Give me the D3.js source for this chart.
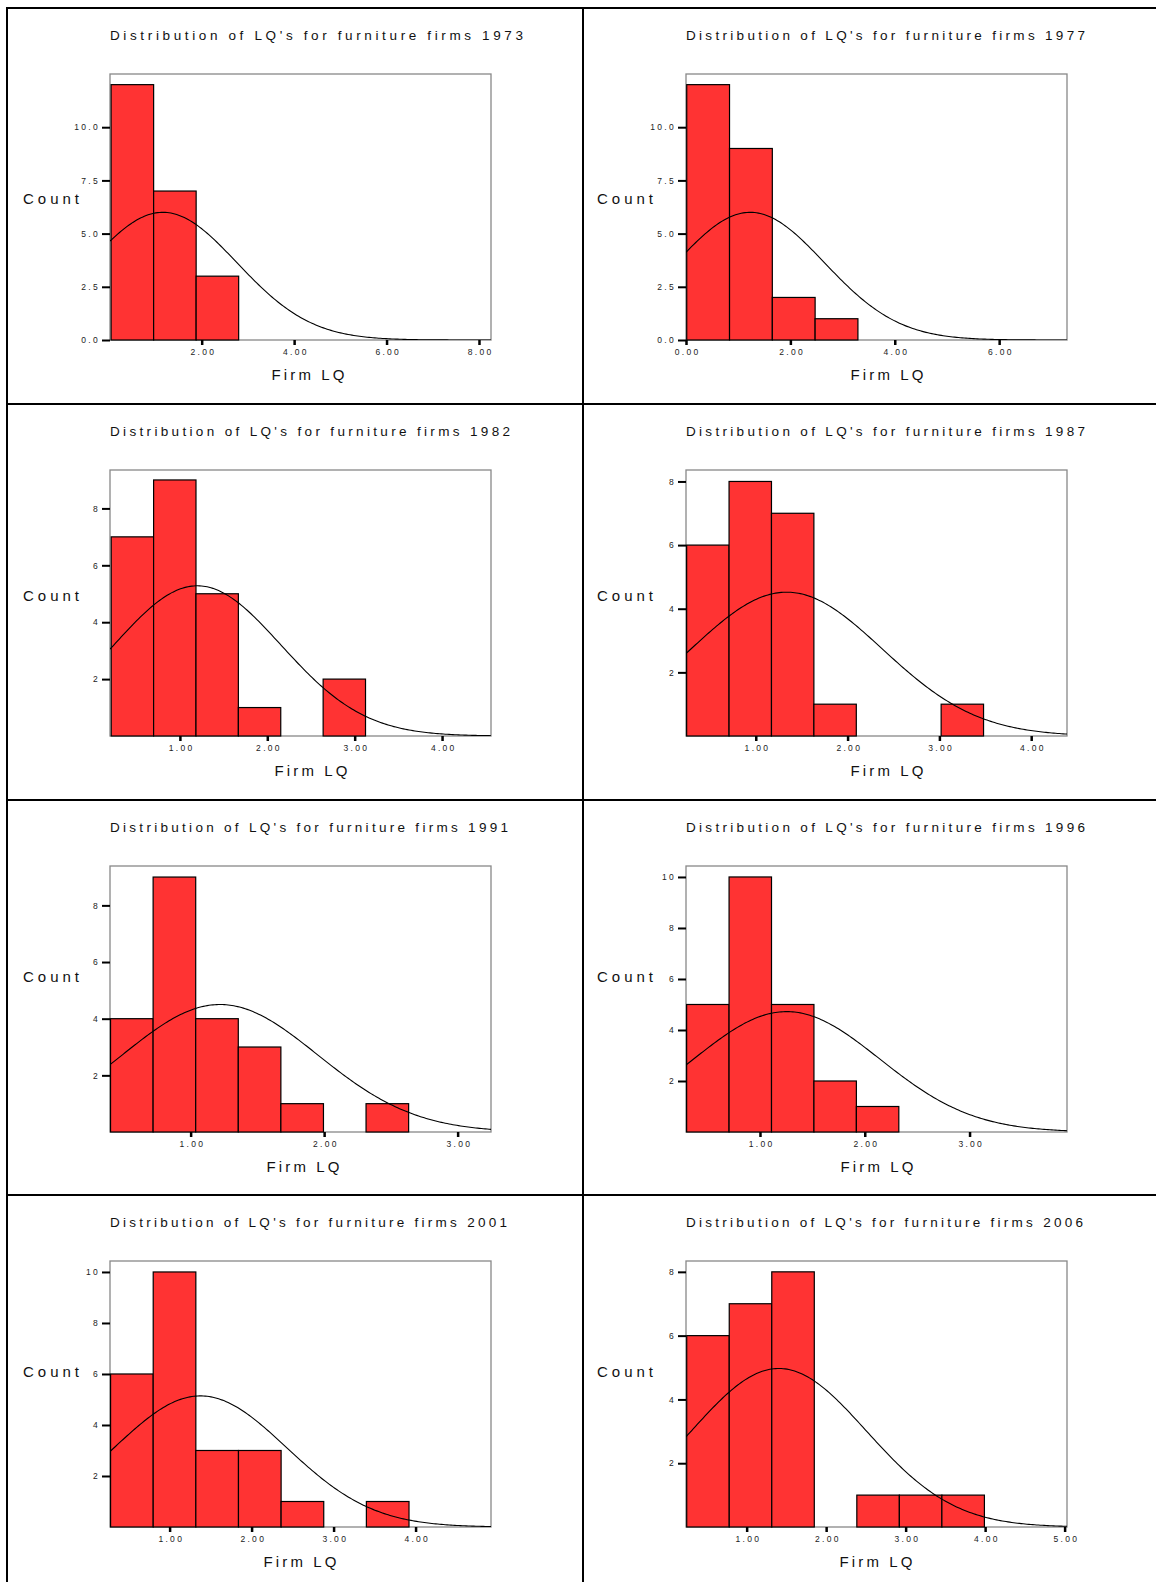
<!DOCTYPE html>
<html>
<head>
<meta charset="utf-8">
<script src="https://cdn.jsdelivr.net/npm/d3@7"></script>
<style>
  body { margin: 0; background: #fff; }
  text { font-family: "Liberation Sans", Arial, sans-serif; }
</style>
</head>
<body>
<svg id="chart"></svg>
<script>
// data
const years = [1973, 1977, 1982, 1987, 1991, 1996, 2001, 2006];
const xDomains = [[0.016, 8.26], [0, 7.30], [0.20, 4.56], [0.24, 4.39], [0.396, 3.25], [0.294, 3.93], [0.273, 4.92], [0.237, 5.03]];
const yMax = [12.5, 12.5, 9.35, 8.36, 9.39, 10.43, 10.43, 8.34];
const binStart = [0.04, 0.014, 0.214, 0.247, 0.40, 0.30, 0.28, 0.246];
const binWidth = [0.92, 0.82, 0.485, 0.462, 0.319, 0.405, 0.52, 0.535];
const counts = [
    [12, 7, 3],
    [12, 9, 2, 1],
    [7, 9, 5, 1, 0, 2],
    [6, 8, 7, 1, 0, 0, 1],
    [4, 9, 4, 3, 1, 0, 1],
    [5, 10, 5, 2, 1],
    [6, 10, 3, 3, 1, 0, 1],
    [6, 7, 8, 0, 1, 1, 1]
];
// fitted normal curve: mean, sd, peak height
const curveMean = [1.16, 1.23, 1.20, 1.336, 1.22, 1.255, 1.376, 1.405];
const curveSd = [1.6, 1.42, 0.955, 1.04, 0.73, 0.888, 1.05, 1.1];
const curvePeak = [6.0, 6.0, 5.28, 4.52, 4.5, 4.72, 5.14, 4.97];
const yTicks = [[0, 2.5, 5, 7.5, 10], [0, 2.5, 5, 7.5, 10], [2, 4, 6, 8], [2, 4, 6, 8], [2, 4, 6, 8], [2, 4, 6, 8, 10], [2, 4, 6, 8, 10], [2, 4, 6, 8]];
const xTicks = [[2, 4, 6, 8], [0, 2, 4, 6], [1, 2, 3, 4], [1, 2, 3, 4], [1, 2, 3], [1, 2, 3], [1, 2, 3, 4], [1, 2, 3, 4, 5]];

// layout
const W = 1156, H = 1582;
const colX = [7, 583], rowY = [8, 404, 800, 1195];
const titleLen = [413, 399, 400, 399, 398, 399, 397, 397];
const countDy = [196, 196, 196.5, 196.5, 182, 182, 182, 182];
const firmCx = [301, 304, 304, 304, 296, 294, 293, 293];

const svg = d3.select("#chart").attr("width", W).attr("height", H);
svg.append("rect").attr("width", W).attr("height", H).attr("fill", "#fff");

// table borders
const borders = svg.append("g").attr("stroke", "#000").attr("stroke-width", 2);
rowY.forEach(ry => borders.append("line").attr("x1", colX[0] - 1).attr("x2", W).attr("y1", ry).attr("y2", ry));
colX.forEach(cx => borders.append("line").attr("x1", cx).attr("x2", cx).attr("y1", rowY[0] - 1).attr("y2", H));

years.forEach((year, i) => {
    const ox = colX[i % 2], oy = rowY[Math.floor(i / 2)];
    const left = ox + 103, right = ox + 484, top = oy + 66, bottom = oy + 332;

    const x = d3.scaleLinear().domain(xDomains[i]).range([left, right]);
    const y = d3.scaleLinear().domain([0, yMax[i]]).range([bottom, top]);

    const g = svg.append("g");

    // title
    g.append("text")
        .attr("x", left).attr("y", oy + 31.5)
        .attr("textLength", titleLen[i]).attr("lengthAdjust", "spacing")
        .style("font-size", "13.5px").attr("fill", "#111")
        .text(`Distribution of LQ's for furniture firms ${year}`);

    // frame
    g.append("rect")
        .attr("x", left).attr("y", top)
        .attr("width", right - left).attr("height", bottom - top)
        .attr("fill", "#fff").attr("stroke", "#888").attr("stroke-width", 1.3);

    // bars
    const bins = counts[i].map((c, k) => ({
        x0: binStart[i] + k * binWidth[i],
        x1: binStart[i] + (k + 1) * binWidth[i],
        c
    })).filter(d => d.c > 0);
    g.selectAll("rect.bar")
        .data(bins).enter()
        .append("rect")
        .attr("class", "bar")
        .attr("x", d => x(d.x0))
        .attr("y", d => y(d.c))
        .attr("width", d => x(d.x1) - x(d.x0))
        .attr("height", d => y(0) - y(d.c))
        .style("fill", "#ff3333")
        .style("stroke", "#000")
        .style("stroke-width", 1.2);

    // normal curve
    const clipId = `clip${year}`;
    g.append("clipPath").attr("id", clipId)
        .append("rect").attr("x", left).attr("y", top).attr("width", right - left).attr("height", bottom - top);
    const m = curveMean[i], s = curveSd[i], p = curvePeak[i];
    const [d0, d1] = xDomains[i];
    const pts = d3.range(0, 201).map(k => d0 + (d1 - d0) * k / 200);
    const line = d3.line()
        .x(d => x(d))
        .y(d => y(p * Math.exp(-((d - m) ** 2) / (2 * s * s))));
    g.append("path")
        .datum(pts)
        .attr("clip-path", `url(#${clipId})`)
        .attr("d", line)
        .attr("fill", "none")
        .attr("stroke", "#000")
        .attr("stroke-width", 1.1);

    // axes
    const yFmt = i < 2 ? d3.format(".1f") : d3.format("d");
    const axisY = d3.axisLeft(y).tickValues(yTicks[i]).tickSize(8).tickPadding(2).tickFormat(yFmt);
    const gy = g.append("g").attr("transform", `translate(${left},0)`).call(axisY);
    gy.select(".domain").remove();
    gy.selectAll(".tick line").attr("stroke", "#000").attr("stroke-width", 2);
    gy.selectAll(".tick text")
        .attr("fill", "#222").style("font-size", "8.5px").style("letter-spacing", "2.3px")
        .attr("font-family", null);

    const axisX = d3.axisBottom(x).tickValues(xTicks[i]).tickSize(5).tickPadding(4).tickFormat(d3.format(".2f"));
    const gx = g.append("g").attr("transform", `translate(0,${bottom})`).call(axisX);
    gx.select(".domain").remove();
    gx.selectAll(".tick line").attr("stroke", "#000").attr("stroke-width", 2.5);
    gx.selectAll(".tick text")
        .attr("fill", "#222").style("font-size", "8.5px").style("letter-spacing", "2.3px")
        .attr("font-family", null)
        .attr("dx", "1.2px");

    // axis titles
    g.append("text")
        .attr("x", ox + (i % 2 ? 14 : 16)).attr("y", oy + countDy[i])
        .attr("textLength", 56).attr("lengthAdjust", "spacing")
        .style("font-size", "15px").attr("fill", "#111")
        .text("Count");
    g.append("text")
        .attr("x", ox + firmCx[i] - 36.5).attr("y", oy + 372)
        .attr("textLength", 73).attr("lengthAdjust", "spacing")
        .style("font-size", "15px").attr("fill", "#111")
        .text("Firm LQ");
});
</script>
</body>
</html>
